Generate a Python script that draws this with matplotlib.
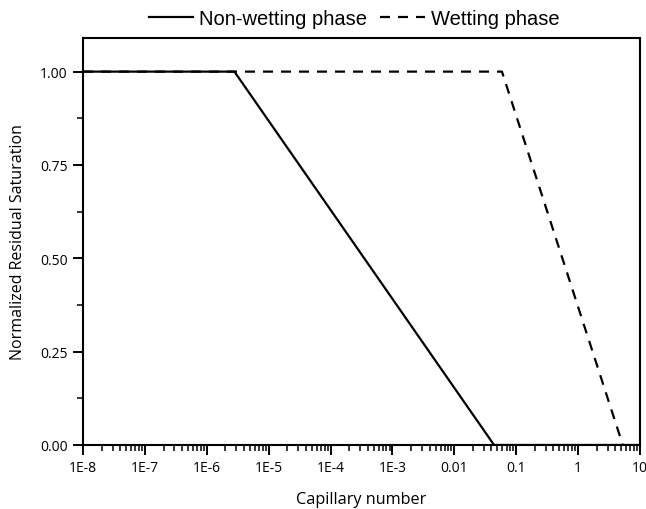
import matplotlib
matplotlib.use("Agg")
import matplotlib.pyplot as plt
from matplotlib.ticker import (FixedLocator, LogLocator, NullFormatter,
                               FixedFormatter, MultipleLocator)

# Piecewise curves: capillary number vs normalized residual saturation
nonwet_x = [1e-8, 2.8e-6, 0.044, 10]
nonwet_y = [1.0, 1.0, 0.0, 0.0]
wet_x = [1e-8, 0.059, 5.3]
wet_y = [1.0, 1.0, 0.0]

xtick_vals = [1e-8, 1e-7, 1e-6, 1e-5, 1e-4, 1e-3, 1e-2, 1e-1, 1, 10]
xtick_labels = ["1E-8", "1E-7", "1E-6", "1E-5", "1E-4", "1E-3", "0.01", "0.1", "1", "10"]
ytick_vals = [0.0, 0.25, 0.5, 0.75, 1.0]

fig = plt.figure(figsize=(6.46, 5.1), dpi=100)
ax = fig.add_axes([0.1285, 0.1255, 0.862, 0.798])

ax.plot(nonwet_x, nonwet_y, color="black", lw=1.6, label="Non-wetting phase")
ax.plot(wet_x, wet_y, color="black", lw=1.6, ls=(0, (4.5, 3.6)), label="Wetting phase")

ax.set_xscale("log")
ax.set_xlim(1e-8, 10)
ax.set_ylim(0, 1.09)

tick_font = "Open Sans"
ax.xaxis.set_major_locator(FixedLocator(xtick_vals))
ax.xaxis.set_major_formatter(FixedFormatter(xtick_labels))
ax.xaxis.set_minor_locator(LogLocator(base=10, subs=range(2, 10), numticks=50))
ax.xaxis.set_minor_formatter(NullFormatter())
ax.set_yticks(ytick_vals)
ax.set_yticklabels([f"{v:.2f}" for v in ytick_vals])
ax.yaxis.set_minor_locator(MultipleLocator(0.125))

ax.tick_params(axis="both", which="major", direction="out", length=7, width=1.4,
               labelsize=10, pad=4)
ax.tick_params(axis="both", which="minor", direction="out", length=4, width=1.1)
for lab in ax.get_xticklabels() + ax.get_yticklabels():
    lab.set_fontfamily(tick_font)

for sp in ax.spines.values():
    sp.set_linewidth(1.5)

ax.set_xlabel("Capillary number", fontsize=11.7, family=tick_font, labelpad=11)
ax.set_ylabel("Normalized Residual Saturation", fontsize=11.5, family=tick_font,
              labelpad=10)

fig.legend(loc="upper center", bbox_to_anchor=(0.548, 1.015), ncol=2, frameon=False,
           prop={"family": "Liberation Sans", "size": 14.5}, handlelength=2.2,
           columnspacing=0.65, handletextpad=0.3)

fig.savefig("out.png", dpi=100)
